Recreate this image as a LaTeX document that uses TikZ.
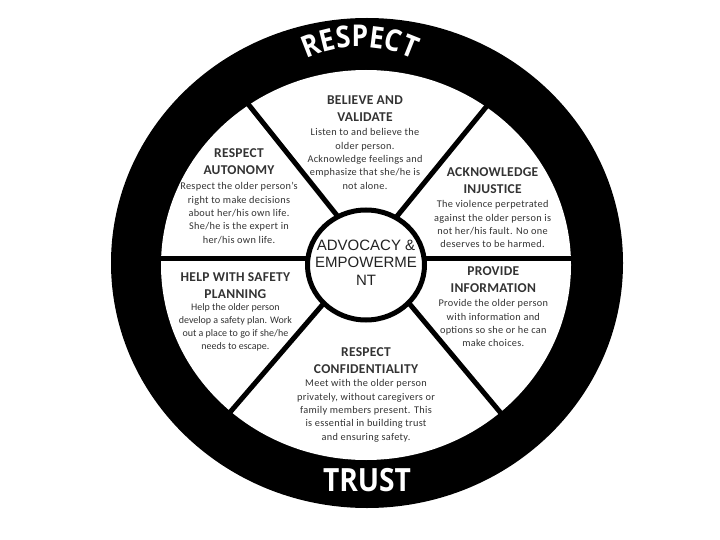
\documentclass[tikz,border=0pt]{standalone}
\usepackage{fontspec}
\setmainfont{Carlito}
\newfontfamily\advfont{Liberation Sans}
\newfontfamily\bandfont[FakeStretch=0.88]{Open Sans}
\usetikzlibrary{decorations.text}
\definecolor{txt}{HTML}{333333}
\definecolor{advtxt}{HTML}{222222}
\begin{document}
\begin{tikzpicture}[x=1pt,y=-1pt,
  ttl/.style={font=\fontsize{13.5}{16.5}\selectfont\bfseries\addfontfeature{LetterSpace=2}, text=txt, align=center, inner sep=0pt, anchor=north},
  bdy/.style={font=\fontsize{10.3}{13.3}\selectfont\addfontfeature{LetterSpace=3}, text=txt, align=center, inner sep=0pt, anchor=north},
  bdytight/.style={bdy, font=\fontsize{10}{12.8}\selectfont},
  spoke/.style={line width=5pt, draw=black},
  band/.style={font=\bandfont\bfseries\fontsize{32}{32}\selectfont, text=white}
]
\useasboundingbox (0,0) rectangle (720,540);
\fill[white] (0,0) rectangle (720,540);
\coordinate (C) at (367,263);
\coordinate (Ci) at (366,265);
\coordinate (H) at (367,253);
\coordinate (Cc) at (366,265);
\coordinate (Ca) at (360,172);
% ring
\fill[black] (C) ellipse [x radius=256, y radius=245];
\fill[white] (Ci) ellipse [x radius=205, y radius=195];
% spokes
\path (H) ++(231.4:220) coordinate (sUL);
\path (H) ++(309.2:220) coordinate (sUR);
\path (H) ++(130.7:220) coordinate (sLL);
\path (H) ++(50.1:220) coordinate (sLR);
\coordinate (hL) at (150,258);
\coordinate (hR) at (585,258);
\draw[spoke] (H) -- (sUL);
\draw[spoke] (H) -- (sUR);
\draw[spoke] (H) -- (sLL);
\draw[spoke] (H) -- (sLR);
\draw[spoke] (hL) -- (hR);
% centre
\draw[line width=5pt, fill=white] (Cc) ellipse [x radius=58.5, y radius=55];
\node[font=\advfont\fontsize{15}{17.5}\selectfont, text=advtxt, align=center, inner sep=0pt, anchor=north] (adv) at (366,239.6) {ADVOCACY \&\\EMPOWERME\\NT};
% band words
\path[decorate, decoration={text along path, text={|\bandfont\bfseries\fontsize{30}{30}\selectfont|RESPECT}, text align=center, text color=white}]
  (Ca) ++(200:125) arc[start angle=200, end angle=340, radius=125];
\node[band, anchor=base] (trust) at (367,491.7) {TRUST};
% sectors
\node[ttl] (t1) at (365,95.7) {BELIEVE AND\\VALIDATE};
\node[bdy] (b1) at (365,128.5) {Listen to and believe the\\older person.\\Acknowledge feelings and\\emphasize that she/he is\\not alone.};
\node[ttl] (t2) at (239,148.7) {RESPECT\\AUTONOMY};
\node[bdy] (b2) at (239,182.5) {Respect the older person’s\\right to make decisions\\about her/his own life.\\She/he is the expert in\\her/his own life.};
\node[ttl] (t3) at (492.6,167.7) {ACKNOWLEDGE\\INJUSTICE};
\node[bdy] (b3) at (492.6,200.5) {The violence perpetrated\\against the older person is\\not her/his fault. No one\\deserves to be harmed.};
\node[ttl] (t4) at (235.4,272.7) {HELP WITH SAFETY\\PLANNING};
\node[bdytight] (b4) at (235.4,303.5) {Help the older person\\develop a safety plan. Work\\out a place to go if she/he\\needs to escape.};
\node[ttl] (t5) at (493.3,266.7) {PROVIDE\\INFORMATION};
\node[bdy] (b5) at (493.3,299.5) {Provide the older person\\with information and\\options so she or he can\\make choices.};
\node[ttl] (t6) at (366,347.7) {RESPECT\\CONFIDENTIALITY};
\node[bdy] (b6) at (366,379.5) {Meet with the older person\\privately, without caregivers or\\family members present. This\\is essential in building trust\\and ensuring safety.};
\end{tikzpicture}
\end{document}
